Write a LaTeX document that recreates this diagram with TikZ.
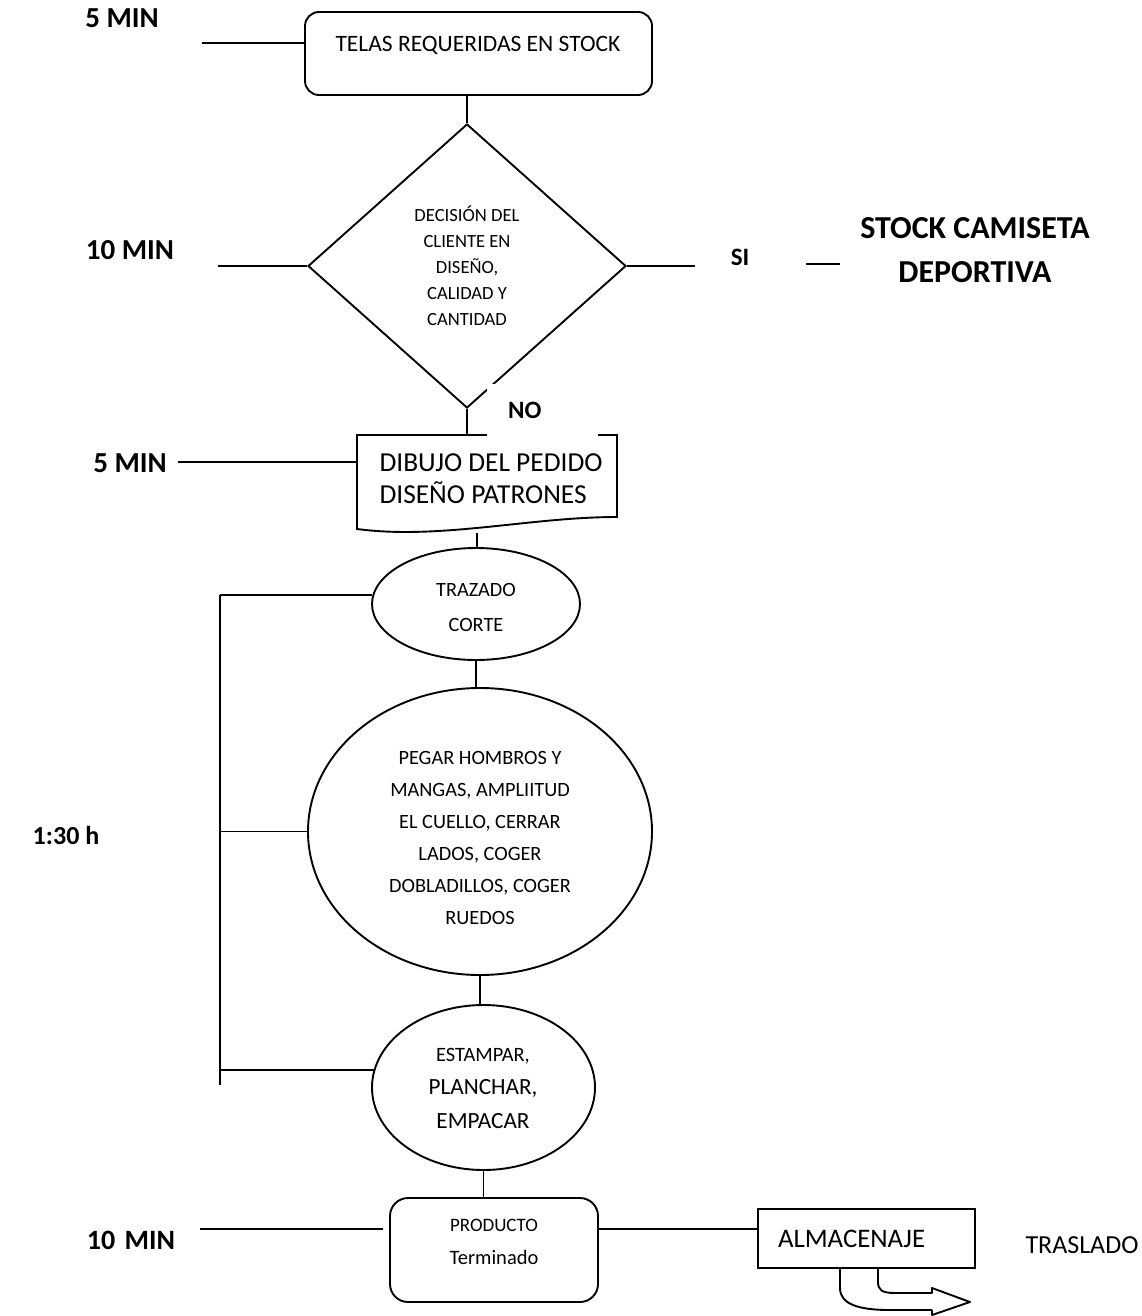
\documentclass[tikz,border=0pt]{standalone}
\usepackage{fontspec}
\setmainfont{Carlito}
\usetikzlibrary{shapes.geometric}
\newcommand{\fz}[2]{\fontsize{#1}{#2}\selectfont}
\tikzset{
  ln/.style={line width=1.9pt},
  shp/.style={draw, line width=1.9pt, inner sep=0pt},
  tag/.style={font=\bfseries\fz{29}{34}},
}
\begin{document}
\begin{tikzpicture}[x=1pt,y=-1pt]
\useasboundingbox (0,0) rectangle (1141,1316);
% top box
\node[shp, rounded corners=14, minimum width=347, minimum height=83] (top) at (478.5,53.5) {};
\node[font=\fz{23.5}{28}] (toptxt) at (478,45) {TELAS REQUERIDAS EN STOCK};
\node[tag] (t1) at (122,18) {5 MIN};
\coordinate (t1a) at (202,43);
\draw[ln] (t1a) -- (t1a -| top.west);
% diamond
\node[shp, diamond, minimum width=318, minimum height=284, align=center, font=\fz{18.6}{26}] (dia) at (467,266)
  {DECISIÓN DEL\\CLIENTE EN\\DISEÑO,\\CALIDAD Y\\CANTIDAD};
\draw[ln] (top.south -| dia.north) -- (dia.north);
\node[tag] (t2) at (130,250) {10 MIN};
\coordinate (t2a) at (218,266);
\draw[ln] (t2a) -- (dia.west);
\coordinate (sia) at (695,266);
\draw[ln] (dia.east) -- (sia);
\node[font=\bfseries\fz{25}{30}] (si) at (740,257) {SI};
\coordinate (sib) at (806,264);
\coordinate (sic) at (840,264);
\draw[ln] (sib) -- (sic);
\node[font=\bfseries\fz{32}{44}, align=center] (stock) at (975,250) {STOCK CAMISETA\\DEPORTIVA};
% document
\coordinate (doctop) at (467,435);
\coordinate (docbot) at (477,533);
\draw[ln] (357,435) -- (617,435) -- (617,517)
  .. controls (530,517) and (440,540) .. (357,529) -- cycle;
\node[anchor=west, align=left, font=\fz{27.4}{32}] (doc) at (376,479) {DIBUJO DEL PEDIDO\\DISEÑO PATRONES};
\draw[ln] (dia.south) -- (doctop);
\node[tag] (t3) at (130,463) {5 MIN};
\coordinate (t3a) at (178,462);
\coordinate (t3b) at (357,462);
\draw[ln] (t3a) -- (t3b);
% NO label with white backing
\node[fill=white, anchor=west, inner sep=0pt, minimum height=53, text width=111, align=left,
  font=\bfseries\fz{25}{30}] (no) at (487,410.5) {\hspace*{21pt}NO};
% ellipses
\node[shp, ellipse, minimum width=208, minimum height=112] (e1) at (476,604) {};
\node[align=center, font=\fz{20.3}{35}] (e1t) at (476,607) {TRAZADO\\CORTE};
\draw[ln] (docbot) -- (docbot |- e1.north);
\node[shp, ellipse, minimum width=344, minimum height=287] (e2) at (480,831.5) {};
\node[align=center, font=\fz{20.3}{32}] (e2t) at (480,838)
  {PEGAR HOMBROS Y\\MANGAS, AMPLIITUD\\EL CUELLO, CERRAR\\LADOS, COGER\\DOBLADILLOS, COGER\\RUEDOS};
\draw[ln] (e1.south) -- (e1.south |- e2.north);
\node[shp, ellipse, minimum width=223, minimum height=165] (e3) at (483.5,1087.5) {};
\node[align=center, font=\fz{23.2}{33.5}] (e3t) at (483,1088)
  {{\fz{20.4}{33.5}ESTAMPAR,}\\PLANCHAR,\\EMPACAR};
\draw[ln] (e2.south) -- (e2.south |- e3.north);
% bracket
\coordinate (bx) at (220,0);
\coordinate (bb) at (220,1085);
\draw[ln] (e1.175 -| bx) -- (bb);
\draw[ln] (e1.175 -| bx) -- (e1.175);
\draw[ln] (e2.west -| bx) -- (e2.west);
\draw[ln] (e3.171 -| bx) -- (e3.171);
\node[font=\bfseries\fz{26}{30}] (t4) at (66,835) {1:30 h};
% product box
\node[shp, rounded corners=18, minimum width=208, minimum height=104] (prod) at (494,1250) {};
\node[align=center, font=\fz{19}{33}] (prodt) at (494,1242) {PRODUCTO\\{\fz{20.5}{33}Terminado}};
\draw[ln] (e3.south) -- (e3.south |- prod.north);
\node[tag, font=\bfseries\fz{28}{32}] (t5) at (131,1240) {10\,\,MIN};
\coordinate (t5a) at (200,1229);
\coordinate (t5b) at (383,1229);
\draw[ln] (t5a) -- (t5b);
% almacenaje
\node[shp, minimum width=217, minimum height=59, inner xsep=20pt, text width=177, align=left,
  font=\fz{26.8}{32}] (alm) at (866.5,1238.5) {ALMACENAJE};
\draw[ln] (prod.east |- t5a) -- (alm.west |- t5a);
\node[font=\fz{26}{30}] (tras) at (1082,1245) {TRASLADO};
% curved block arrow
\draw[ln, line join=round] (840,1268) -- (840,1288)
  .. controls (840,1304) and (858,1310) .. (890,1310) -- (932,1310) -- (932,1315)
  -- (970,1302) -- (932,1288) -- (932,1293) -- (895,1293)
  .. controls (882,1293) and (878,1290) .. (878,1282) -- (878,1268);
\end{tikzpicture}
\end{document}
